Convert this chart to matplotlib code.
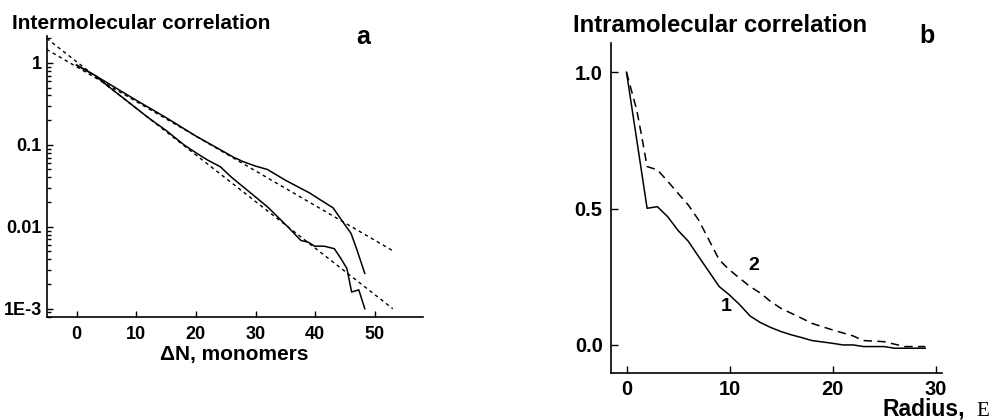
import matplotlib
matplotlib.use("Agg")
from matplotlib import pyplot as plt
from matplotlib.ticker import FixedLocator, LogLocator, NullFormatter

plt.rcParams["font.family"] = ["Liberation Sans", "DejaVu Sans"]
plt.rcParams["font.weight"] = "bold"
plt.rcParams["axes.labelweight"] = "bold"

# panel a: intermolecular correlation (log scale)
dn_1 = [0, 3, 5, 10, 15, 20, 25, 26.4, 28, 30, 32, 35, 37, 39, 41, 43, 44.8, 46,
        47, 48.3]
corr_1 = [0.94, 0.71, 0.58, 0.35, 0.215, 0.128, 0.08, 0.070, 0.062, 0.055, 0.050,
          0.037, 0.031, 0.026, 0.021, 0.017, 0.011, 0.0083, 0.0052, 0.0027]
dn_2 = [0, 3, 5, 10, 12, 15, 18, 20, 22, 24.1, 26, 28.6, 32, 35.4, 37.6, 38.8,
        39.9, 41.5, 43.2, 44.3, 45.3, 46.1, 47.3, 48.3]
corr_2 = [0.94, 0.71, 0.54, 0.28, 0.215, 0.15, 0.10, 0.08, 0.065, 0.054, 0.040,
          0.028, 0.0175, 0.010, 0.0068, 0.0065, 0.0058, 0.0058, 0.0054, 0.0041,
          0.0031, 0.0016, 0.0017, 0.001]
fit_x = [-5, 53]
fit_1 = [1.46, 0.0051]
fit_2 = [1.99, 0.001]

# panel b: intramolecular correlation
r_1 = [0, 2, 3, 4, 5, 6, 7, 8, 9, 10, 11, 12, 13, 14, 15, 16, 17, 18, 20, 21, 22,
       23, 25, 26, 29]
c_1 = [1.0, 0.501, 0.507, 0.47, 0.42, 0.38, 0.324, 0.269, 0.214, 0.183, 0.147,
       0.106, 0.082, 0.064, 0.049, 0.037, 0.027, 0.016, 0.006, 0.0, 0.0, -0.006,
       -0.006, -0.012, -0.012]
r_2 = [0, 1, 1.5, 2, 3, 4, 5, 6, 7, 8, 9, 10, 11, 12, 13, 14, 15, 16, 17, 18, 20,
       22, 23, 25, 27, 29]
c_2 = [1.0, 0.86, 0.76, 0.654, 0.642, 0.60, 0.556, 0.513, 0.458, 0.385, 0.312,
       0.275, 0.244, 0.214, 0.19, 0.159, 0.134, 0.116, 0.098, 0.079, 0.055, 0.033,
       0.016, 0.012, -0.006, -0.006]

fig = plt.figure(figsize=(9.91, 4.2), dpi=100)

ax1 = fig.add_axes([0.0471, 0.246, 0.3794, 0.668])
ax1.plot(dn_1, corr_1, color="black", lw=1.1)
ax1.plot(dn_2, corr_2, color="black", lw=1.1)
ax1.plot(fit_x, fit_1, color="black", lw=1.0, ls=(0, (2.5, 2.5)))
ax1.plot(fit_x, fit_2, color="black", lw=1.0, ls=(0, (2.5, 2.5)))
ax1.set_yscale("log")
ax1.set_xlim(-5, 58)
ax1.set_ylim(8e-4, 2.12)
ax1.yaxis.set_major_locator(FixedLocator([1, 0.1, 0.01, 0.001]))
ax1.set_yticklabels(["1", "0.1", "0.01", "1E-3"])
ax1.yaxis.set_minor_locator(LogLocator(base=10, subs=range(2, 10)))
ax1.yaxis.set_minor_formatter(NullFormatter())
ax1.set_xticks([0, 10, 20, 30, 40, 50])
ax1.tick_params(direction="in", length=4, width=1, labelsize=13, pad=3.5)
ax1.tick_params(which="minor", direction="in", length=3, width=1)
ax1.tick_params(axis="x", pad=7)
for s in ["top", "right"]:
    ax1.spines[s].set_visible(False)
for s in ["left", "bottom"]:
    ax1.spines[s].set_linewidth(1.2)
ax1.set_xlabel("\u0394N, monomers", fontsize=15, labelpad=1)
fig.text(0.0118, 0.945, "Intermolecular correlation", fontsize=15, va="center")
fig.text(0.366, 0.913, "a", fontsize=18, ha="center", va="center")

ax2 = fig.add_axes([0.6166, 0.1112, 0.3337, 0.7857])
ax2.plot(r_1, c_1, color="black", lw=1.1)
ax2.plot(r_2, c_2, color="black", lw=1.1, ls=(0, (5.5, 3.5)))
ax2.set_xlim(-1.5, 30.6)
ax2.set_ylim(-0.104, 1.106)
ax2.set_xticks([0, 10, 20, 30])
ax2.set_yticks([0.0, 0.5, 1.0])
ax2.set_yticklabels(["0.0", "0.5", "1.0"])
ax2.tick_params(direction="in", length=5, width=1, labelsize=14.5, pad=6)
ax2.tick_params(axis="x", pad=4.5)
for s in ["top", "right"]:
    ax2.spines[s].set_visible(False)
for s in ["left", "bottom"]:
    ax2.spines[s].set_linewidth(1.2)
ax2.text(9.7, 0.14, "1", fontsize=14, ha="center", va="center")
ax2.text(12.4, 0.293, "2", fontsize=14, ha="center", va="center")
fig.text(0.578, 0.94, "Intramolecular correlation", fontsize=17.2, va="center")
fig.text(0.935, 0.915, "b", fontsize=18, ha="center", va="center")
fig.text(0.891, 0.010, "Radius,", fontsize=16.5, va="baseline")
fig.text(0.985, 0.010, "E", fontsize=15, va="baseline", ha="left",
         family="Liberation Serif", weight="normal")

fig.savefig("out.png", dpi=100)
